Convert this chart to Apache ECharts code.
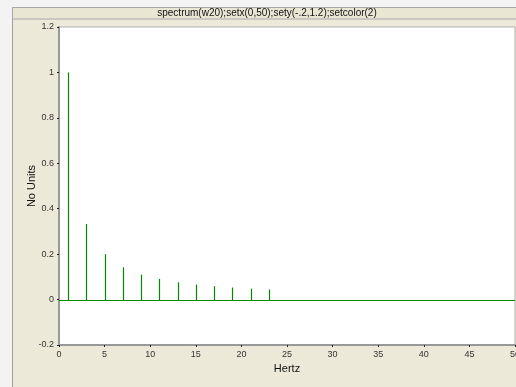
<!DOCTYPE html>
<html>
<head>
<meta charset="utf-8">
<script src="https://cdn.jsdelivr.net/npm/echarts@6/dist/echarts.min.js"></script>
<style>
html,body{margin:0;padding:0;background:#f3f3f3;}
#c{width:516px;height:387px;}
</style>
</head>
<body>
<div id="c"></div>
<script>
var titleText = 'spectrum(w20);setx(0,50);sety(-.2,1.2);setcolor(2)';
var xName = 'Hertz';
var yName = 'No Units';
var harmonics = [1, 3, 5, 7, 9, 11, 13, 15, 17, 19, 21, 23];
var amplitudes = [1.0, 0.333, 0.2, 0.142, 0.110, 0.091, 0.076, 0.066, 0.059, 0.053, 0.048, 0.044];
var baselineX = [0, 50];
var baselineY = [0, 0];
var xRange = [0, 50, 5];
var yRange = [-0.2, 1.2, 0.2];

var chart = echarts.init(document.getElementById('c'), null, {renderer: 'canvas'});
var stems = harmonics.map(function (h, i) { return [h, amplitudes[i]]; });
var green = '#008a00';
var font = 'Liberation Sans, Arial, sans-serif';

chart.setOption({
  animation: false,
  backgroundColor: '#f3f3f3',
  graphic: [
    {type: 'rect', z: -10, shape: {x: 12.5, y: 7.5, width: 520, height: 390}, style: {fill: '#ECE9D8', stroke: '#a0a0a0', lineWidth: 1}},
    {type: 'rect', z: -9, shape: {x: 12.5, y: 7.5, width: 520, height: 11.5}, style: {fill: '#E9E6D4', stroke: '#a8a8a8', lineWidth: 1}},
    {type: 'text', z: 5, x: 267, y: 13.5, style: {text: titleText, font: '10px ' + font, fill: '#111', textAlign: 'center', textVerticalAlign: 'middle'}}
  ],
  grid: {left: 59, top: 27, right: 1, bottom: 42, outerBoundsMode: 'none', containLabel: false,
    show: true, backgroundColor: '#ffffff', borderColor: '#b0b0b0', borderWidth: 1},
  xAxis: {
    type: 'value', min: xRange[0], max: xRange[1], interval: xRange[2],
    name: xName, nameLocation: 'middle', nameGap: 18,
    nameTextStyle: {fontFamily: font, fontSize: 11, color: '#111'},
    axisLine: {onZero: false, lineStyle: {color: '#999', width: 2}},
    axisTick: {show: true, length: 2, lineStyle: {color: '#222', width: 1}},
    axisLabel: {fontFamily: font, fontSize: 9, color: '#333', margin: 5},
    splitLine: {show: false}
  },
  yAxis: {
    type: 'value', min: yRange[0], max: yRange[1], interval: yRange[2],
    name: yName, nameLocation: 'middle', nameGap: 22, nameMoveOverlap: false,
    nameTextStyle: {fontFamily: font, fontSize: 11, color: '#111'},
    axisLine: {show: true, lineStyle: {color: '#999', width: 2}},
    axisTick: {show: true, length: 2, lineStyle: {color: '#222', width: 1}},
    axisLabel: {fontFamily: font, fontSize: 9, color: '#333', margin: 5,
      formatter: function (v) { return String(Math.round(v * 10) / 10); }},
    splitLine: {show: false}
  },
  series: [{
    type: 'custom',
    data: [[baselineX[0], baselineY[0], baselineX[1], baselineY[1]]],
    silent: true,
    z: 1,
    renderItem: function (params, api) {
      var a = api.coord([api.value(0), api.value(1)]);
      var b = api.coord([api.value(2), api.value(3)]);
      var y = Math.round(a[1]) + 0.5;
      return {type: 'line', shape: {x1: a[0], y1: y, x2: b[0], y2: y},
        style: {stroke: green, lineWidth: 1}};
    }
  }, {
    type: 'custom',
    data: stems,
    z: 2,
    renderItem: function (params, api) {
      var p0 = api.coord([api.value(0), 0]);
      var p1 = api.coord([api.value(0), api.value(1)]);
      return {type: 'line', shape: {x1: Math.round(p0[0]) + 0.5, y1: Math.round(p0[1]) + 0.5, x2: Math.round(p1[0]) + 0.5, y2: p1[1]},
        style: {stroke: green, lineWidth: 1.2}};
    }
  }]
});
</script>
</body>
</html>
